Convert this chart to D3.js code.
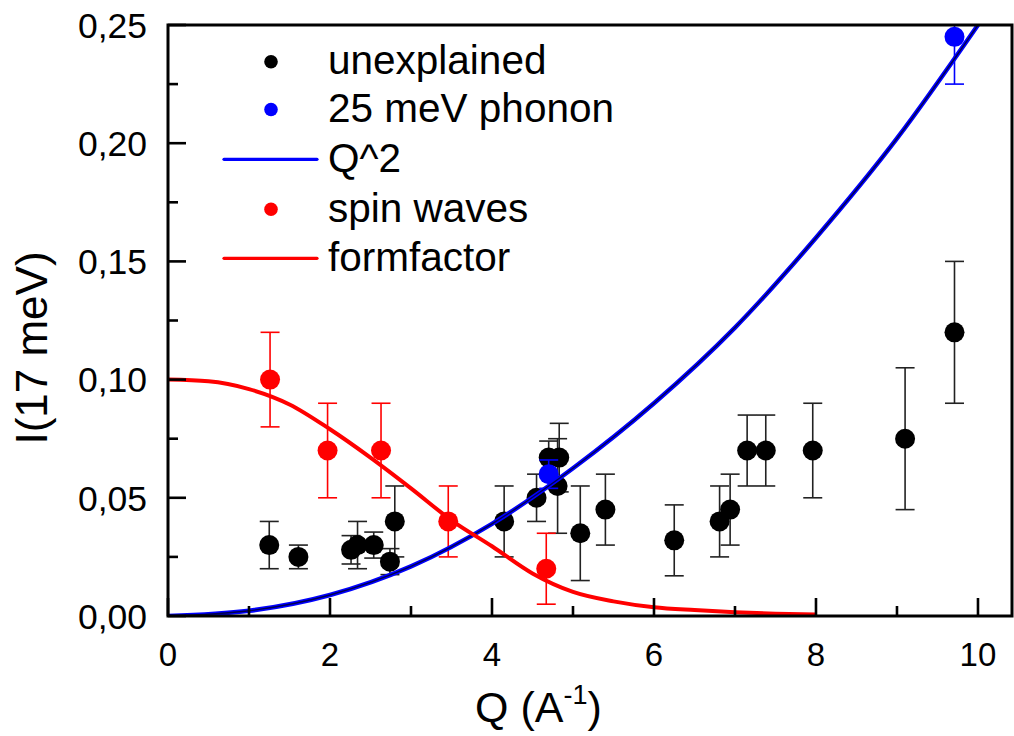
<!DOCTYPE html>
<html>
<head>
<meta charset="utf-8">
<script src="https://cdn.jsdelivr.net/npm/d3@7"></script>
<style>
  html, body { margin: 0; padding: 0; background: #fff; }
  svg { display: block; font-family: "Liberation Sans", Arial, sans-serif; }
</style>
</head>
<body>
<svg id="chart" width="1014" height="736"></svg>
<script>
// ---------- data ----------
const unexplainedQ   = [1.25, 1.61, 2.26, 2.34, 2.54, 2.74, 2.80, 4.15, 4.55, 4.70, 4.83, 4.81, 5.09, 5.40, 6.25, 6.81, 6.94, 7.15, 7.38, 7.96, 9.10, 9.71];
const unexplainedI   = [0.030, 0.025, 0.028, 0.030, 0.030, 0.023, 0.040, 0.040, 0.050, 0.067, 0.067, 0.055, 0.035, 0.045, 0.032, 0.040, 0.045, 0.070, 0.070, 0.070, 0.075, 0.120];
const unexplainedErr = [0.010, 0.005, 0.006, 0.010, 0.0055, 0.0055, 0.015, 0.015, 0.010, 0.007, 0.0145, 0.020, 0.020, 0.015, 0.015, 0.015, 0.015, 0.015, 0.015, 0.020, 0.030, 0.030];

const phononQ   = [4.70, 9.71];
const phononI   = [0.060, 0.245];
const phononErr = [0.006, 0.020];

const spinQ   = [1.26, 1.97, 2.63, 3.46, 4.67];
const spinI   = [0.100, 0.070, 0.070, 0.040, 0.020];
const spinErr = [0.020, 0.020, 0.020, 0.015, 0.015];

// curves
const q2CurveQ = [0, 1, 2, 3, 4, 5, 6, 7, 8, 9, 10];
const q2CurveI = [0, 0.0022, 0.0089, 0.0210, 0.0390, 0.0625, 0.0900, 0.1220, 0.1600, 0.2020, 0.2500];

const ffCurveQ = [0, 0.5, 1, 1.5, 2, 2.5, 3, 3.5, 4, 4.5, 5, 5.5, 6, 6.5, 7, 7.5, 8];
const ffCurveI = [0.100, 0.0993, 0.0960, 0.0895, 0.0790, 0.0670, 0.0540, 0.0405, 0.0295, 0.0180, 0.0102, 0.0062, 0.0037, 0.0025, 0.0016, 0.0010, 0.0006];

const xMajorTicks = [0, 2, 4, 6, 8, 10];
const xMinorTicks = [1, 3, 5, 7, 9];
const yMajorTicks = [0, 0.05, 0.10, 0.15, 0.20, 0.25];
const yMinorTicks = [0.025, 0.075, 0.125, 0.175, 0.225];

const legendLabels = ["unexplained", "25 meV phonon", "Q^2", "spin waves", "formfactor"];
const legendTypes  = ["dot", "dot", "line", "dot", "line"];
const legendColors = ["#000000", "#0000ff", "#0000ff", "#ff0000", "#ff0000"];

// ---------- layout ----------
const svg = d3.select("#chart");
const L = 168, R = 1012, T = 25, B = 616;
const x = d3.scaleLinear().domain([0, 10.42]).range([L, R]);
const y = d3.scaleLinear().domain([0, 0.25]).range([B, T]);

svg.append("defs").append("clipPath").attr("id", "plotclip")
  .append("rect").attr("x", L).attr("y", T).attr("width", R - L).attr("height", B - T);

const plot = svg.append("g").attr("clip-path", "url(#plotclip)");

function errorBars(Q, I, E, color, width) {
  const g = plot.append("g").attr("stroke", color).attr("stroke-width", width).attr("fill", "none");
  Q.forEach((q, i) => {
    const cx = x(q), y1 = y(I[i] + E[i]), y2 = y(I[i] - E[i]);
    g.append("line").attr("x1", cx).attr("x2", cx).attr("y1", y1).attr("y2", y2);
    g.append("line").attr("x1", cx - 9.5).attr("x2", cx + 9.5).attr("y1", y1).attr("y2", y1);
    g.append("line").attr("x1", cx - 9.5).attr("x2", cx + 9.5).attr("y1", y2).attr("y2", y2);
  });
}
function dots(Q, I, color) {
  plot.append("g").selectAll("circle").data(Q).join("circle")
    .attr("cx", d => x(d)).attr("cy", (d, i) => y(I[i])).attr("r", 10).attr("fill", color);
}

errorBars(unexplainedQ, unexplainedI, unexplainedErr, "#222", 1.6);
dots(unexplainedQ, unexplainedI, "#000");
errorBars(spinQ, spinI, spinErr, "#ff0000", 1.6);
dots(spinQ, spinI, "#ff0000");
errorBars(phononQ, phononI, phononErr, "#0000ff", 1.6);
dots(phononQ, phononI, "#0000ff");

const line = d3.line().x(d => x(d[0])).y(d => y(d[1])).curve(d3.curveMonotoneX);
const q2Data = q2CurveQ.map((q, i) => [q, q2CurveI[i]]);
const ffData = ffCurveQ.map((q, i) => [q, ffCurveI[i]]);

plot.append("path").datum(q2Data).attr("d", line).attr("fill", "none")
  .attr("stroke", "#0000ff").attr("stroke-width", 4.5);
plot.append("path").datum(q2Data).attr("d", line).attr("fill", "none")
  .attr("stroke", "#000050").attr("stroke-width", 1.4);
plot.append("path").datum(ffData).attr("d", line).attr("fill", "none")
  .attr("stroke", "#ff0000").attr("stroke-width", 4);

// ---------- axes ----------
const ax = svg.append("g").attr("stroke", "#000");
ax.append("rect").attr("x", L).attr("y", T).attr("width", R - L).attr("height", B - T)
  .attr("fill", "none").attr("stroke-width", 3);

xMajorTicks.forEach(v => ax.append("line").attr("x1", x(v)).attr("x2", x(v)).attr("y1", B).attr("y2", B - 18).attr("stroke-width", 2.6));
xMinorTicks.forEach(v => ax.append("line").attr("x1", x(v)).attr("x2", x(v)).attr("y1", B).attr("y2", B - 10).attr("stroke-width", 2.6));
yMajorTicks.forEach(v => ax.append("line").attr("x1", L).attr("x2", L + 18).attr("y1", y(v)).attr("y2", y(v)).attr("stroke-width", 2.6));
yMinorTicks.forEach(v => ax.append("line").attr("x1", L).attr("x2", L + 10).attr("y1", y(v)).attr("y2", y(v)).attr("stroke-width", 2.6));

const fmtY = d => d3.format(".2f")(d).replace(".", ",");
svg.append("g").selectAll("text").data(yMajorTicks).join("text")
  .attr("x", 147).attr("y", d => y(d)).attr("dy", "0.36em")
  .attr("text-anchor", "end").attr("font-size", 35.5).attr("fill", "#000")
  .text(fmtY);
svg.append("g").selectAll("text").data(xMajorTicks).join("text")
  .attr("x", d => x(d)).attr("y", 666)
  .attr("text-anchor", "middle").attr("font-size", 33).attr("fill", "#000")
  .text(d => d);

// axis titles
const xt = svg.append("text").attr("x", 475).attr("y", 722).attr("font-size", 43).attr("fill", "#000");
xt.append("tspan").text("Q (A");
xt.append("tspan").attr("font-size", 27).attr("dy", -18).text("-1");
xt.append("tspan").attr("dy", 18).text(")");

svg.append("text").attr("transform", "translate(47,348) rotate(-90)")
  .attr("text-anchor", "middle").attr("font-size", 44).attr("fill", "#000")
  .text("I(17 meV)");

// ---------- legend ----------
const legendCY = [61.7, 109.5, 159.3, 209.3, 258.3];
const lg = svg.append("g");
legendLabels.forEach((lab, i) => {
  if (legendTypes[i] === "dot") {
    lg.append("circle").attr("cx", 271).attr("cy", legendCY[i]).attr("r", 6.8).attr("fill", legendColors[i]);
  } else {
    lg.append("line").attr("x1", 224).attr("x2", 317).attr("y1", legendCY[i]).attr("y2", legendCY[i])
      .attr("stroke", legendColors[i]).attr("stroke-width", 3.2).attr("stroke-linecap", "round");
  }
  lg.append("text").attr("x", 328).attr("y", legendCY[i] + 12.2)
    .attr("font-size", 40.5).attr("fill", "#000").text(lab);
});
</script>
</body>
</html>
